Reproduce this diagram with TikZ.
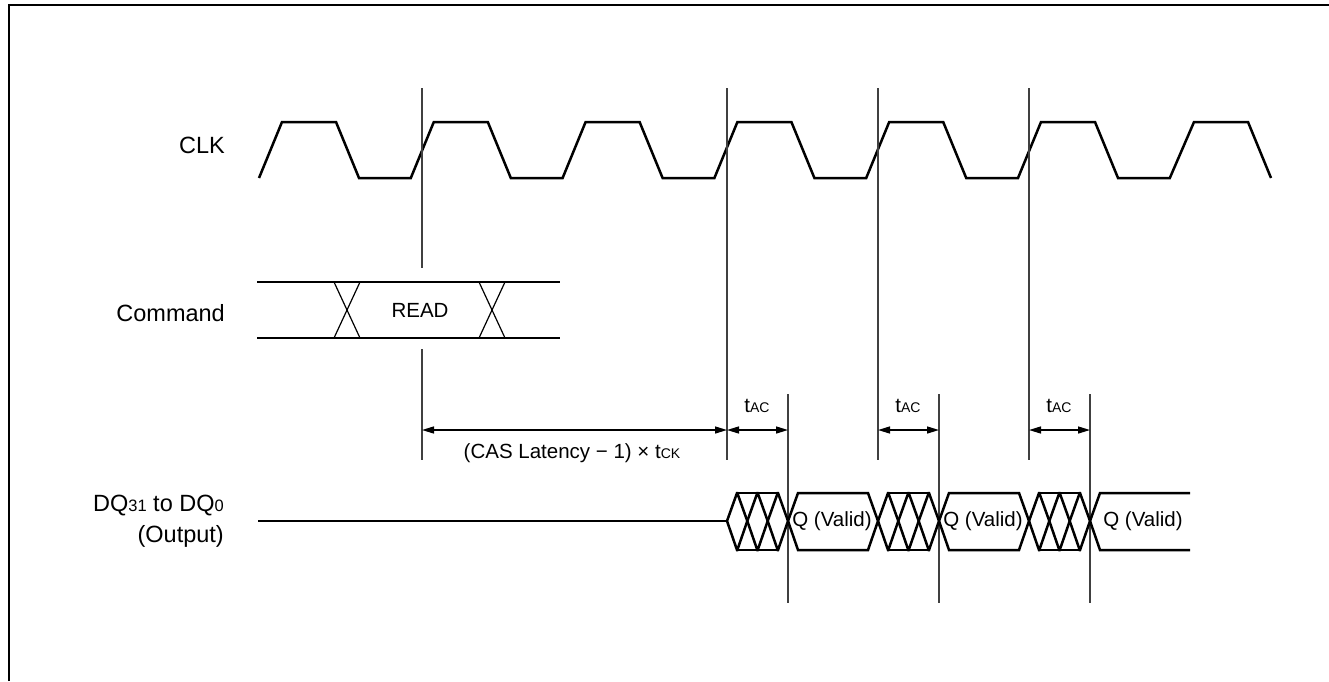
\documentclass[tikz,border=0pt]{standalone}
\usepackage{fontspec}
\setmainfont{Liberation Sans}
\usetikzlibrary{arrows.meta}
\newcommand{\sml}[1]{{\fontsize{14}{14}\selectfont #1}}
\newcommand{\smb}[1]{{\fontsize{16.5}{16.5}\selectfont #1}}

\tikzset{
  sig/.style={line width=2.5pt, line join=miter},
  xing/.style={line width=1.2pt},
  refline/.style={line width=1.3pt, black!75},
  dim/.style={line width=1.4pt, {Triangle[length=12pt,width=7pt]}-{Triangle[length=12pt,width=7pt]}},
  lbl/.style={font=\fontsize{20.5}{23}\selectfont, inner sep=0pt},
  signame/.style={font=\fontsize{23.5}{30.5}\selectfont, inner sep=0pt, anchor=east},
}

\begin{document}
\begin{tikzpicture}[x=1pt,y=-1pt]
  \useasboundingbox (0,0) rectangle (1329,681);
  \draw [line width=2.4pt] (9,681) -- (9,5) -- (1329,5);

  % signal names
  \node [signame] (clk) at (225,145) {CLK};
  \node [signame] (cmd) at (225,313) {Command};
  \node [signame, align=right] (dq) at (224,521)
    {DQ\smb{31} to DQ\smb{0}\\(Output)};

  % clock
  \draw [sig] (259,178)
    \foreach \r in {259,410.8,562.6,714.4,866.2,1018} {
      -- (\r+23,122) -- (\r+77,122) -- (\r+100,178) -- (\r+151.8,178) }
    -- (1194,122) -- (1248,122) -- (1271,178);

  % command bus
  \draw [sig] (257,282) -- (560,282);
  \draw [sig] (257,338) -- (560,338);
  \draw [xing] (334,282) -- (360,338) (334,338) -- (360,282);
  \draw [xing] (479,282) -- (505,338) (479,338) -- (505,282);
  \node [lbl] (read) at (420,310) {READ};

  % reference lines
  \coordinate (r0t) at (422,88);   \coordinate (r0m) at (422,268);
  \coordinate (r0n) at (422,349);  \coordinate (r0b) at (422,460);
  \coordinate (r1t) at (727,88);   \coordinate (r1b) at (727,460);
  \coordinate (r2t) at (878,88);   \coordinate (r2b) at (878,460);
  \coordinate (r3t) at (1029,88);  \coordinate (r3b) at (1029,460);
  \coordinate (a1t) at (788,394);  \coordinate (a1b) at (788,603);
  \coordinate (a2t) at (939,394);  \coordinate (a2b) at (939,603);
  \coordinate (a3t) at (1090,394); \coordinate (a3b) at (1090,603);
  \draw [refline] (r0t) -- (r0m);
  \draw [refline] (r0n) -- (r0b);
  \draw [refline] (r1t) -- (r1b);
  \draw [refline] (r2t) -- (r2b);
  \draw [refline] (r3t) -- (r3b);
  \draw [refline] (a1t) -- (a1b);
  \draw [refline] (a2t) -- (a2b);
  \draw [refline] (a3t) -- (a3b);

  % timing
  \coordinate (d0) at (422,430);
  \coordinate (d1) at (727,430);
  \coordinate (d2) at (788,430);
  \coordinate (d3) at (878,430);
  \coordinate (d4) at (939,430);
  \coordinate (d5) at (1029,430);
  \coordinate (d6) at (1090,430);
  \draw [dim] (d0) -- (d1);
  \draw [dim] (d1) -- (d2);
  \draw [dim] (d3) -- (d4);
  \draw [dim] (d5) -- (d6);
  \node [lbl] (lat) at (572,453) {(CAS Latency − 1) × t\sml{CK}};
  \node [lbl] (tac1) at (757,406) {t\sml{AC}};
  \node [lbl] (tac2) at (908,406) {t\sml{AC}};
  \node [lbl] (tac3) at (1059,406) {t\sml{AC}};

  % data output
  \draw [sig] (258,521) -- (727,521);
  \foreach \a/\b in {727/747.3, 747.3/767.7, 767.7/788, 788/878,
                     878/898.3, 898.3/918.7, 918.7/939, 939/1029,
                     1029/1049.3, 1049.3/1069.7, 1069.7/1090}
    \draw [sig] (\a,521) -- (\a+10,493) -- (\b-10,493) -- (\b,521)
      -- (\b-10,550) -- (\a+10,550) -- cycle;
  \foreach \a in {727,878,1029}
    \draw [sig] (\a+10,493) -- (\a+51,493) (\a+10,550) -- (\a+51,550);
  \draw [sig] (1190,493) -- (1100,493) -- (1090,521) -- (1100,550) -- (1190,550);
  \node [lbl] (q1) at (832,521) {Q (Valid)};
  \node [lbl] (q2) at (983,521) {Q (Valid)};
  \node [lbl] (q3) at (1143,521) {Q (Valid)};
\end{tikzpicture}
\end{document}
